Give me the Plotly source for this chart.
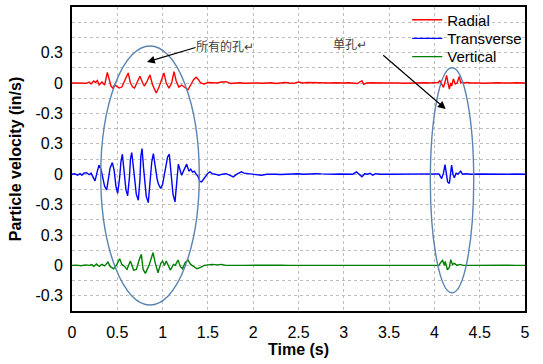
import plotly.graph_objects as go

# ---------------- data ----------------
series_names = ["Radial", "Transverse", "Vertical"]
series_offsets = [0.9, 0.0, -0.9]
series_colors = ["#ff0000", "#0000ff", "#008000"]

radial_samples = [
    (0.00, 0.0), (0.04, 0.0), (0.08, 0.003), (0.12, 0.0), (0.16, -0.003), (0.19, 0.008),
    (0.21, -0.01), (0.24, 0.02), (0.26, 0.005), (0.28, 0.025), (0.30, -0.02), (0.33, 0.01),
    (0.36, -0.02), (0.39, 0.105), (0.41, 0.02), (0.43, -0.03), (0.45, -0.05), (0.47, -0.02),
    (0.50, -0.035), (0.52, -0.05), (0.55, -0.04), (0.58, 0.02), (0.60, 0.06), (0.62, 0.099),
    (0.645, 0.0), (0.67, -0.04), (0.69, -0.05), (0.72, 0.01), (0.75, 0.066), (0.78, 0.0),
    (0.80, -0.03), (0.83, 0.02), (0.86, 0.079), (0.89, -0.02), (0.93, -0.099), (0.96, -0.04),
    (0.99, 0.03), (1.015, 0.099), (1.04, 0.0), (1.07, -0.05), (1.10, 0.0), (1.126, 0.112),
    (1.15, 0.02), (1.18, -0.04), (1.21, -0.02), (1.25, -0.05), (1.28, -0.066), (1.31, -0.02),
    (1.34, 0.03), (1.37, 0.056), (1.39, 0.04), (1.42, 0.0), (1.46, -0.01), (1.50, 0.005),
    (1.55, 0.005), (1.60, 0.0), (1.65, 0.01), (1.70, 0.013), (1.75, -0.005), (1.80, 0.0),
    (1.85, 0.003), (1.90, -0.002), (1.95, 0.0), (2.00, 0.002), (2.05, 0.0), (2.10, -0.003),
    (2.15, 0.0), (2.20, 0.003), (2.25, -0.005), (2.30, 0.0), (2.35, 0.005), (2.40, 0.0),
    (2.45, -0.003), (2.50, 0.01), (2.55, 0.0), (2.60, 0.005), (2.65, 0.003), (2.70, 0.0),
    (2.75, 0.002), (2.80, -0.003), (2.85, 0.0), (2.90, 0.003), (2.95, 0.0), (3.00, 0.0),
    (3.05, 0.002), (3.10, 0.0), (3.15, -0.005), (3.18, 0.012), (3.20, 0.023), (3.22, -0.012),
    (3.25, 0.0), (3.30, 0.003), (3.35, 0.0), (3.40, 0.002), (3.45, 0.0), (3.50, 0.0),
    (3.55, 0.003), (3.60, 0.0), (3.65, -0.002), (3.70, 0.0), (3.75, 0.002), (3.80, 0.0),
    (3.85, 0.0), (3.90, 0.003), (3.95, 0.0), (4.00, 0.0), (4.04, 0.005), (4.06, 0.023),
    (4.08, -0.01), (4.10, -0.043), (4.12, 0.02), (4.135, 0.075), (4.15, 0.0), (4.165, -0.059),
    (4.18, 0.0), (4.19, -0.03), (4.21, 0.04), (4.23, -0.01), (4.25, 0.0), (4.275, 0.065),
    (4.29, 0.0), (4.31, 0.01), (4.33, 0.0), (4.36, 0.005), (4.40, 0.0), (4.45, 0.003),
    (4.50, 0.0), (4.55, -0.002), (4.60, 0.002), (4.65, 0.0), (4.70, 0.003), (4.75, 0.0),
    (4.80, -0.002), (4.85, 0.0), (4.90, 0.002), (4.95, 0.0), (5.00, 0.0),
]

transverse_samples = [
    (0.00, 0.0), (0.03, 0.005), (0.06, -0.01), (0.09, 0.005), (0.11, -0.01), (0.13, 0.01),
    (0.16, 0.015), (0.19, -0.005), (0.21, 0.01), (0.23, -0.02), (0.254, -0.066), (0.28, 0.03),
    (0.298, 0.089), (0.32, 0.05), (0.34, -0.05), (0.36, -0.12), (0.383, -0.155), (0.40, -0.06),
    (0.42, 0.06), (0.445, 0.115), (0.465, 0.04), (0.485, -0.12), (0.504, -0.19), (0.525, -0.04),
    (0.54, 0.12), (0.556, 0.197), (0.575, 0.05), (0.595, -0.15), (0.614, -0.214), (0.635, -0.02),
    (0.645, 0.15), (0.659, 0.214), (0.68, 0.05), (0.71, -0.2), (0.732, -0.257), (0.75, -0.05),
    (0.76, 0.18), (0.773, 0.253), (0.79, 0.06), (0.82, -0.22), (0.842, -0.28), (0.86, -0.1),
    (0.88, 0.12), (0.898, 0.204), (0.92, 0.05), (0.94, -0.05), (0.955, -0.1), (0.979, -0.141),
    (1.00, -0.1), (1.03, 0.05), (1.055, 0.17), (1.074, 0.197), (1.09, 0.05), (1.115, -0.2),
    (1.137, -0.273), (1.155, -0.05), (1.174, 0.099), (1.19, 0.05), (1.21, -0.01), (1.235, 0.04),
    (1.25, 0.07), (1.266, 0.099), (1.29, 0.03), (1.31, 0.05), (1.33, 0.02), (1.35, 0.03),
    (1.37, 0.0), (1.39, -0.02), (1.41, -0.07), (1.43, -0.076), (1.46, -0.04), (1.50, 0.01),
    (1.523, 0.023), (1.55, 0.005), (1.58, 0.0), (1.62, -0.01), (1.66, 0.0), (1.70, 0.005),
    (1.74, -0.01), (1.78, -0.026), (1.82, 0.0), (1.87, 0.023), (1.90, 0.01), (1.94, 0.005),
    (1.98, 0.0), (2.03, -0.005), (2.09, -0.01), (2.15, 0.0), (2.20, 0.003), (2.25, 0.0),
    (2.30, -0.003), (2.35, 0.0), (2.40, 0.002), (2.45, 0.0), (2.50, 0.005), (2.55, 0.0),
    (2.60, 0.003), (2.65, 0.0), (2.70, 0.005), (2.75, 0.003), (2.80, 0.0), (2.85, -0.002),
    (2.90, 0.0), (2.95, 0.002), (3.00, 0.0), (3.05, 0.003), (3.10, 0.0), (3.14, 0.023),
    (3.17, 0.0), (3.20, -0.026), (3.23, 0.005), (3.26, 0.0), (3.29, 0.008), (3.32, -0.01),
    (3.35, 0.005), (3.40, 0.0), (3.50, 0.0), (3.60, 0.0), (3.70, 0.002), (3.80, 0.0),
    (3.90, 0.0), (4.00, 0.0), (4.05, 0.003), (4.08, -0.043), (4.10, 0.01), (4.117, 0.095),
    (4.13, -0.01), (4.146, -0.076), (4.165, -0.092), (4.175, 0.0), (4.19, 0.089), (4.205, 0.0),
    (4.22, -0.036), (4.24, 0.01), (4.26, 0.0), (4.29, 0.03), (4.31, 0.0), (4.35, 0.005),
    (4.40, 0.0), (4.50, 0.002), (4.60, 0.0), (4.70, -0.002), (4.80, 0.0), (4.90, 0.002),
    (5.00, 0.0),
]

vertical_samples = [
    (0.00, 0.0), (0.05, 0.003), (0.10, -0.003), (0.15, 0.005), (0.19, 0.0), (0.22, 0.008),
    (0.24, -0.01), (0.27, 0.015), (0.30, -0.01), (0.33, 0.01), (0.36, -0.005), (0.397, 0.033),
    (0.42, -0.01), (0.46, -0.033), (0.49, 0.0), (0.526, 0.066), (0.55, 0.01), (0.58, -0.01),
    (0.607, -0.04), (0.644, 0.043), (0.68, -0.046), (0.71, -0.04), (0.74, 0.05), (0.765, 0.109),
    (0.785, -0.04), (0.81, -0.079), (0.85, 0.0), (0.894, 0.125), (0.92, 0.02), (0.949, -0.073),
    (0.98, 0.02), (1.00, 0.043), (1.02, 0.0), (1.04, 0.043), (1.085, -0.046), (1.12, 0.01),
    (1.14, 0.0), (1.17, 0.053), (1.195, -0.01), (1.22, -0.033), (1.25, 0.03), (1.28, 0.053),
    (1.31, 0.01), (1.34, -0.01), (1.38, -0.033), (1.42, -0.02), (1.46, 0.0), (1.50, 0.005),
    (1.55, 0.01), (1.60, 0.005), (1.65, 0.01), (1.70, 0.0), (1.75, 0.003), (1.80, 0.0),
    (1.90, 0.0), (2.00, 0.002), (2.05, 0.003), (2.10, 0.0), (2.20, 0.0), (2.30, 0.003),
    (2.40, 0.0), (2.50, 0.0), (2.60, 0.002), (2.70, 0.0), (2.80, 0.0), (2.90, 0.002),
    (3.00, 0.0), (3.10, 0.0), (3.20, 0.002), (3.30, 0.0), (3.35, 0.005), (3.40, 0.0),
    (3.50, 0.0), (3.60, 0.0), (3.70, 0.002), (3.80, 0.0), (3.90, 0.0), (4.00, 0.0),
    (4.05, 0.0), (4.07, 0.03), (4.09, 0.049), (4.11, 0.0), (4.12, 0.04), (4.143, -0.043),
    (4.165, -0.02), (4.18, 0.056), (4.20, 0.01), (4.22, 0.02), (4.25, 0.0), (4.28, 0.01),
    (4.32, 0.0), (4.40, 0.0), (4.50, 0.002), (4.60, 0.0), (4.70, 0.0), (4.80, 0.002),
    (4.90, 0.0), (5.00, 0.0),
]

x_tick_vals = [0, 0.5, 1, 1.5, 2, 2.5, 3, 3.5, 4, 4.5, 5]
x_tick_text = ["0", "0.5", "1", "1.5", "2", "2.5", "3", "3.5", "4", "4.5", "5"]
y_grid_vals = [round(-1.35 + 0.15 * i, 2) for i in range(21)]
y_label_at = {-1.2: "-0.3", -0.9: "0", -0.6: "0.3", -0.3: "-0.3", 0.0: "0",
              0.3: "0.3", 0.6: "-0.3", 0.9: "0", 1.2: "0.3"}
y_tick_text = [y_label_at.get(v, "") for v in y_grid_vals]

note_all_holes = "所有的孔↵"
note_single_hole = "单孔↵"

# ---------------- figure ----------------
FONT = "Liberation Sans, Arial, sans-serif"
fig = go.Figure()
legend_ids = ["legend", "legend2", "legend3"]
for name, samples, off, col, lg in zip(series_names,
                                       [radial_samples, transverse_samples, vertical_samples],
                                       series_offsets, series_colors, legend_ids):
    t = [s[0] for s in samples]
    v = [s[1] + off for s in samples]
    fig.add_trace(go.Scatter(x=t, y=v, mode="lines", name=name, legend=lg,
                             line=dict(color=col, width=1.4)))

grid = dict(showgrid=True, gridcolor="#bdbdbd", gridwidth=1, griddash="dot",
            zeroline=False, showline=True, linecolor="black", linewidth=1.6, mirror=True,
            ticks="", automargin=False, tickfont=dict(family=FONT, size=16, color="black"))

leg_common = dict(xanchor="left", yanchor="middle", bgcolor="rgba(255,255,255,0)",
                  font=dict(family=FONT, size=15, color="black"), borderwidth=0)

LX = 0.74
fig.update_layout(
    width=543, height=364,
    margin=dict(l=72, r=18, t=7, b=53, autoexpand=False),
    paper_bgcolor="white", plot_bgcolor="white",
    font=dict(family=FONT, color="black"),
    xaxis=dict(range=[0, 5], tickmode="array", tickvals=x_tick_vals, ticktext=x_tick_text,
               ticklabelstandoff=6,
               title=dict(text="<b>Time (s)</b>", font=dict(family=FONT, size=16), standoff=4),
               **grid),
    yaxis=dict(range=[-1.35, 1.65], tickmode="array", tickvals=y_grid_vals, ticktext=y_tick_text,
               ticklabelstandoff=4,
               title=dict(text="<b>Particle velocity (in/s)</b>", font=dict(family=FONT, size=16),
                          standoff=10),
               **grid),
    legend=dict(x=LX, y=0.957, **leg_common),
    legend2=dict(x=LX, y=0.896, **leg_common),
    legend3=dict(x=LX, y=0.836, **leg_common),
    showlegend=True,
)

ell_col = "#5b84b1"
fig.add_shape(type="circle", xref="x", yref="y", x0=0.317, x1=1.405, y0=-1.291, y1=1.265,
              line=dict(color=ell_col, width=1.4))
fig.add_shape(type="circle", xref="x", yref="y", x0=3.955, x1=4.434, y0=-1.17, y1=1.051,
              line=dict(color=ell_col, width=1.4))

CJK = "Noto Sans CJK SC"
fig.add_annotation(x=0.828, y=1.107, xref="x", yref="y", ax=50, ay=-15, text="",
                   showarrow=True, arrowhead=2, arrowsize=1.3, arrowwidth=1.2, arrowcolor="black")
fig.add_annotation(x=4.125, y=0.643, xref="x", yref="y", ax=-64, ay=-55, text="",
                   showarrow=True, arrowhead=2, arrowsize=1.3, arrowwidth=1.2, arrowcolor="black")
fig.add_annotation(x=1.689, y=1.275, xref="x", yref="y", text=note_all_holes, showarrow=False,
                   font=dict(family=CJK, size=12, color="#404040"))
fig.add_annotation(x=3.068, y=1.285, xref="x", yref="y", text=note_single_hole, showarrow=False,
                   font=dict(family=CJK, size=12, color="#404040"))

fig.write_html("out.html", config={"displayModeBar": False},
               post_script="document.body.style.margin='0';document.body.style.padding='0';")
